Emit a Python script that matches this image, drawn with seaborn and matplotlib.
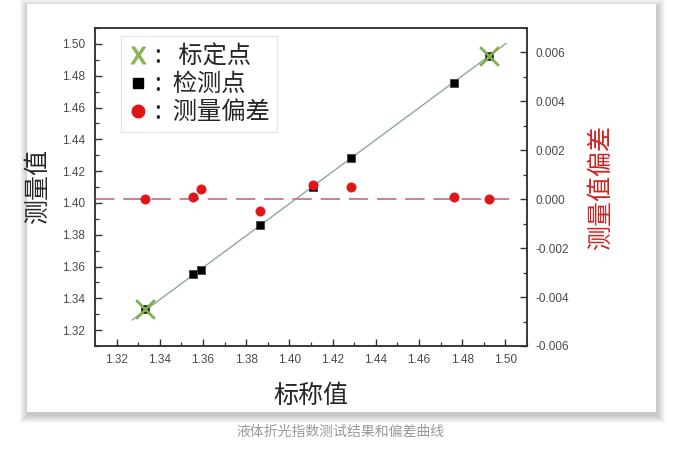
import numpy as np
import pandas as pd
import matplotlib
matplotlib.use("Agg")
import matplotlib.pyplot as plt
import seaborn as sns
from matplotlib.lines import Line2D
from matplotlib.patches import Rectangle
from matplotlib.ticker import MultipleLocator, FormatStrFormatter

# values
calib_nominal = [1.3330, 1.4925]
calib_measured = [1.3330, 1.4925]
test_nominal = [1.3555, 1.3590, 1.3865, 1.4110, 1.4285, 1.4763]
test_measured = [1.3550, 1.3580, 1.3858, 1.4098, 1.4280, 1.4757]
dev_nominal = [1.3330, 1.3555, 1.3590, 1.3865, 1.4110, 1.4285, 1.4763, 1.4925]
dev_values = [0.0000, 0.0001, 0.0004, -0.0005, 0.0006, 0.0005, 0.0001, 0.0000]
fit_nominal = [1.3272, 1.5003]
fit_measured = [1.3263, 1.5003]

legend_labels = [":   标定点", ":  检测点", ":  测量偏差"]

sns.set_style("ticks")
plt.rcParams["font.family"] = ["Noto Sans CJK SC", "DejaVu Sans"]
plt.rcParams["axes.unicode_minus"] = False

W, H = 680, 453
fig = plt.figure(figsize=(W / 100, H / 100), dpi=100)
fig.patch.set_facecolor("white")

# card with a soft drop shadow (drawn below the axes)
cx0, cx1, cy0, cy1 = 27, 656, 4, 412
for i in range(8, 0, -1):
    fig.add_artist(Rectangle(((cx0 - i + 1) / W, 1 - (cy1 + i + 3) / H),
                             (cx1 - cx0 + 2 * i) / W, (cy1 - cy0 + 2 * i) / H,
                             transform=fig.transFigure, facecolor="black",
                             edgecolor="none", alpha=0.026, zorder=-3))
fig.add_artist(Rectangle((cx0 / W, 1 - cy1 / H), (cx1 - cx0) / W, (cy1 - cy0) / H,
                         transform=fig.transFigure, facecolor="white",
                         edgecolor="none", zorder=-2))

ax = fig.add_axes([95 / W, 1 - 346 / H, (527 - 95) / W, (346 - 28) / H])
ax.set_facecolor("none")
ax2 = ax.twinx()

sns.lineplot(x=fit_nominal, y=fit_measured, ax=ax, color="#8fa89a", lw=1.0,
             zorder=2)
sns.scatterplot(x=test_nominal + calib_nominal, y=test_measured + calib_measured,
                ax=ax, marker="s", s=36, color="black", edgecolor="#444444",
                linewidth=0.6, zorder=3)
sns.scatterplot(x=calib_nominal, y=calib_measured, ax=ax, marker="x", s=180,
                color="#7fb04e", linewidth=2.0, zorder=4)

ax2.axhline(0, xmin=0, xmax=0.979, color="#cc7d98", lw=1.4, dashes=(10, 4.5),
            zorder=1)
sns.scatterplot(x=dev_nominal, y=dev_values, ax=ax2, marker="o", s=44,
                color="#e01515", edgecolor="#e01515", zorder=3)

ax.set_xlim(1.31, 1.51)
ax.set_ylim(1.31, 1.51)
ax2.set_ylim(-0.006, 0.007)

ax.xaxis.set_major_locator(MultipleLocator(0.02))
ax.xaxis.set_minor_locator(MultipleLocator(0.01))
ax.yaxis.set_major_locator(MultipleLocator(0.02))
ax.yaxis.set_minor_locator(MultipleLocator(0.01))
ax2.yaxis.set_major_locator(MultipleLocator(0.002))
ax2.yaxis.set_minor_locator(MultipleLocator(0.001))
ax.xaxis.set_major_formatter(FormatStrFormatter("%.2f"))
ax.yaxis.set_major_formatter(FormatStrFormatter("%.2f"))
ax2.yaxis.set_major_formatter(FormatStrFormatter("%.3f"))

for a in (ax, ax2):
    a.tick_params(which="major", direction="in", length=5, width=1.0,
                  color="#333333", labelcolor="#4a4a4a", labelsize=8.5)
    a.tick_params(which="minor", direction="in", length=3, width=0.9,
                  color="#333333")
    for lab in a.get_xticklabels() + a.get_yticklabels():
        lab.set_fontfamily("Liberation Sans")
    for sp in a.spines.values():
        sp.set_visible(True)
        sp.set_color("#333333")
        sp.set_linewidth(1.1)
ax.tick_params(axis="y", pad=7)
ax.tick_params(axis="x", pad=6)
ax2.tick_params(axis="y", pad=6)

ax.set_xlabel("标称值", fontsize=18, labelpad=12)
ax.set_ylabel("测量值", fontsize=18, labelpad=8)
ax2.set_ylabel("测量值偏差", fontsize=18, color="#d42020", labelpad=14)

handles = [
    Line2D([], [], ls="none", marker=r"$\mathsf{X}$", ms=12, color="#8ab35a"),
    Line2D([], [], ls="none", marker="s", ms=7, color="black"),
    Line2D([], [], ls="none", marker="o", ms=9, color="#e01515"),
]
leg = ax2.legend(handles, legend_labels, loc="upper left",
                 bbox_to_anchor=(0.06, 0.975), fontsize=17.5, frameon=True,
                 fancybox=False, edgecolor="#e2e2e2", framealpha=1,
                 handlelength=0.8, handletextpad=0.3, labelspacing=0.08,
                 borderpad=0.3, borderaxespad=0)
leg.get_frame().set_linewidth(0.8)

fig.text(340 / W, 1 - 432 / H, "液体折光指数测试结果和偏差曲线", ha="center",
         va="center", fontsize=10, color="#9a9a9a")

fig.savefig("out.png", dpi=100)
